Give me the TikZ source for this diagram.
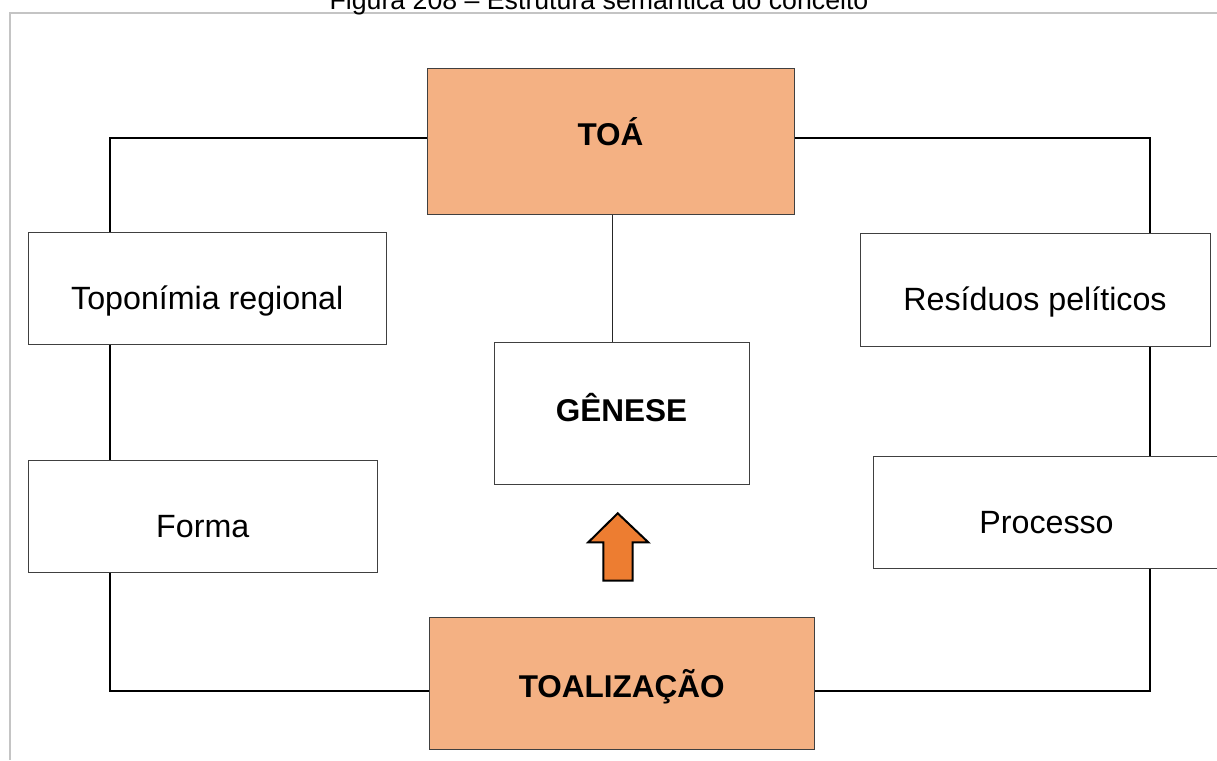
\documentclass[tikz,border=0pt]{standalone}
\usepackage{fontspec}
\setmainfont{Liberation Sans}
\usepackage{xcolor}
\usepackage{tikz}
\usetikzlibrary{calc,positioning}
\definecolor{thubfill}{HTML}{F4B183}
\definecolor{tarrowfill}{HTML}{ED7D31}
\definecolor{tframegray}{HTML}{C4C4C4}
\newcommand{\tfont}{\fontsize{32.2}{36}\selectfont}
\newcommand{\tbold}{\fontsize{31.5}{36}\selectfont\bfseries}
\tikzset{
  tbox/.style={rectangle, draw=black!75, line width=1pt, fill=white,
               inner sep=0pt, text depth=0pt, font=\tfont},
  thub/.style={tbox, fill=thubfill, font=\tbold},
  tlink/.style={black, line width=2pt},
  tthin/.style={black!85, line width=1pt},
  tframe/.style={tframegray, line width=2pt},
  ttitle/.style={anchor=base, inner sep=0pt, font=\fontsize{26.7}{30}\selectfont},
  tarrow/.style={fill=tarrowfill, draw=black, line width=2pt, line join=miter},
}

\begin{document}
\begin{tikzpicture}[x=1pt, y=-1pt]

  \useasboundingbox (0,0) rectangle (1217,760);

  % moldura e titulo
  \draw[tframe] (9.5,760) -- (9.5,13) -- (1217,13);
  \node[ttitle] (titulo) at (599,10) {Figura 208 – Estrutura semântica do conceito};

  % colunas dos conectores
  \coordinate (lcol) at (110,0);
  \coordinate (mcol) at (612.5,0);
  \coordinate (rcol) at (1150,0);

  % caixas
  \node[thub, minimum width=367pt, minimum height=146pt, text height=8pt]
    (toa) at (610.5,141) {TOÁ};
  \node[tbox, minimum width=255pt, minimum height=142pt, text height=16pt,
        font=\tbold] (genese) at (621.5,413) {GÊNESE};
  \node[tbox, minimum width=358.5pt, minimum height=112pt, text height=42pt]
    (topo) at (207.25,288) {Toponímia regional};
  \node[tbox, minimum width=349.5pt, minimum height=112pt, text height=42pt]
    (forma) at (202.75,516) {Forma};
  \node[tbox, minimum width=350pt, minimum height=113pt, text height=42pt]
    (resid) at (1035,289.5) {Resíduos pelíticos};
  \node[tbox, minimum width=347pt, minimum height=112pt, text height=42pt]
    (proc) at (1046.5,512) {Processo};
  \node[thub, minimum width=384.5pt, minimum height=132pt, text height=28pt]
    (toal) at (621.75,683) {TOALIZAÇÃO};

  % conectores
  \draw[tlink] ([yshift=3pt]toa.west) -| (topo.north -| lcol);
  \draw[tlink] (topo.south -| lcol) -- (forma.north -| lcol);
  \draw[tlink] (forma.south -| lcol) |- ([yshift=-8pt]toal.west);
  \draw[tlink] ([yshift=3pt]toa.east) -| (resid.north -| rcol);
  \draw[tlink] (resid.south -| rcol) -- (proc.north -| rcol);
  \draw[tlink] (proc.south -| rcol) |- ([yshift=-8pt]toal.east);
  \draw[tthin] (toa.south -| mcol) -- (genese.north -| mcol);

  % seta
  \draw[tarrow] (603.3,580.7) -- (603.3,542.3) -- (588.3,542.3) -- (617.7,513.3)
    -- (648.3,542.3) -- (632.7,542.3) -- (632.7,580.7) -- cycle;

\end{tikzpicture}
\end{document}
